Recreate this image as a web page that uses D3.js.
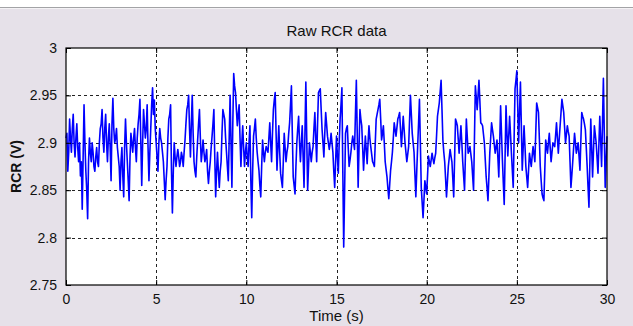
<!DOCTYPE html>
<html>
<head>
<meta charset="utf-8">
<script src="https://cdn.jsdelivr.net/npm/d3@7"></script>
<style>
  html, body { margin: 0; padding: 0; background: #e6e1e9; }
  svg { display: block; font-family: "Liberation Sans", Arial, sans-serif; }
</style>
</head>
<body>
<div id="chart"></div>
<script>
// RCR voltage at whole tenths of a second, one array per 5 s window
const rcr00to05 = [2.905, 2.87, 2.925, 2.89, 2.93, 2.885, 2.92, 2.88, 2.865, 2.83,
  2.94, 2.87, 2.82, 2.905, 2.88, 2.89, 2.87, 2.895, 2.875, 2.915,
  2.935, 2.89, 2.93, 2.88, 2.92, 2.86, 2.947, 2.9, 2.915, 2.885,
  2.85, 2.895, 2.843, 2.925, 2.88, 2.839, 2.91, 2.89, 2.915, 2.88,
  2.92, 2.946, 2.855, 2.935, 2.905, 2.94, 2.86, 2.915, 2.958, 2.945];
const rcr05to10 = [2.9, 2.87, 2.915, 2.9, 2.88, 2.84, 2.875, 2.925, 2.94, 2.826,
  2.9, 2.875, 2.893, 2.875, 2.89, 2.875, 2.903, 2.935, 2.95, 2.885,
  2.95, 2.88, 2.864, 2.903, 2.935, 2.88, 2.903, 2.88, 2.893, 2.857,
  2.88, 2.907, 2.935, 2.843, 2.89, 2.853, 2.88, 2.935, 2.925, 2.89,
  2.86, 2.95, 2.853, 2.973, 2.953, 2.918, 2.94, 2.875, 2.918, 2.875];
const rcr10to15 = [2.9, 2.875, 2.918, 2.821, 2.907, 2.925, 2.89, 2.871, 2.843, 2.903,
  2.88, 2.896, 2.89, 2.921, 2.88, 2.935, 2.953, 2.871, 2.918, 2.868,
  2.853, 2.91, 2.88, 2.896, 2.921, 2.96, 2.864, 2.846, 2.9, 2.928,
  2.88, 2.918, 2.853, 2.964, 2.85, 2.9, 2.88, 2.896, 2.932, 2.88,
  2.953, 2.957, 2.914, 2.885, 2.932, 2.907, 2.893, 2.91, 2.89, 2.853];
const rcr15to20 = [2.907, 2.868, 2.925, 2.958, 2.79, 2.91, 2.918, 2.875, 2.89, 2.907,
  2.893, 2.966, 2.853, 2.935, 2.918, 2.871, 2.907, 2.878, 2.918, 2.896,
  2.88, 2.875, 2.925, 2.935, 2.946, 2.903, 2.918, 2.88, 2.864, 2.841,
  2.871, 2.89, 2.921, 2.907, 2.925, 2.932, 2.896, 2.928, 2.9, 2.88,
  2.896, 2.95, 2.91, 2.89, 2.843, 2.896, 2.946, 2.853, 2.821, 2.86];
const rcr20to25 = [2.846, 2.886, 2.875, 2.889, 2.878, 2.889, 2.928, 2.942, 2.966, 2.903,
  2.88, 2.843, 2.875, 2.893, 2.88, 2.843, 2.925, 2.918, 2.889, 2.918,
  2.88, 2.85, 2.925, 2.889, 2.896, 2.88, 2.85, 2.96, 2.935, 2.966,
  2.921, 2.918, 2.9, 2.864, 2.839, 2.889, 2.921, 2.907, 2.889, 2.903,
  2.864, 2.939, 2.882, 2.835, 2.939, 2.886, 2.928, 2.889, 2.853, 2.957];
const rcr25to30 = [2.976, 2.9, 2.964, 2.871, 2.918, 2.875, 2.853, 2.889, 2.875, 2.896,
  2.88, 2.942, 2.932, 2.875, 2.846, 2.839, 2.903, 2.889, 2.91, 2.88,
  2.9, 2.896, 2.921, 2.889, 2.918, 2.946, 2.932, 2.9, 2.918, 2.907,
  2.853, 2.88, 2.91, 2.889, 2.9, 2.871, 2.932, 2.925, 2.914, 2.875,
  2.832, 2.925, 2.864, 2.918, 2.9, 2.868, 2.928, 2.875, 2.968, 2.853, 2.907];

// readings half way between those (t + 0.05 s), from the dense core of the trace
const mid00to05 = [2.91, 2.89, 2.905, 2.915, 2.9, 2.905, 2.895, 2.9, 2.88, 2.885,
  2.9, 2.85, 2.88, 2.89, 2.9, 2.875, 2.885, 2.88, 2.9, 2.92,
  2.905, 2.915, 2.9, 2.905, 2.895, 2.92, 2.915, 2.905, 2.895, 2.875,
  2.88, 2.865, 2.895, 2.9, 2.86, 2.885, 2.9, 2.905, 2.895, 2.905,
  2.93, 2.9, 2.9, 2.92, 2.915, 2.895, 2.89, 2.94, 2.93, 2.915];
const mid05to10 = [2.885, 2.9, 2.905, 2.89, 2.86, 2.86, 2.905, 2.93, 2.87, 2.87,
  2.885, 2.885, 2.885, 2.88, 2.885, 2.89, 2.92, 2.94, 2.915, 2.92,
  2.91, 2.87, 2.885, 2.92, 2.905, 2.89, 2.89, 2.885, 2.87, 2.87,
  2.895, 2.92, 2.885, 2.87, 2.87, 2.87, 2.91, 2.93, 2.905, 2.875,
  2.905, 2.9, 2.92, 2.96, 2.935, 2.93, 2.905, 2.9, 2.895, 2.89];
const mid10to15 = [2.885, 2.9, 2.86, 2.87, 2.915, 2.905, 2.88, 2.855, 2.875, 2.89,
  2.89, 2.893, 2.905, 2.9, 2.91, 2.945, 2.91, 2.895, 2.89, 2.86,
  2.88, 2.895, 2.89, 2.91, 2.94, 2.91, 2.855, 2.875, 2.915, 2.9,
  2.9, 2.885, 2.91, 2.905, 2.875, 2.89, 2.89, 2.915, 2.905, 2.92,
  2.955, 2.935, 2.9, 2.91, 2.92, 2.9, 2.9, 2.9, 2.87, 2.88];
const mid15to20 = [2.885, 2.9, 2.94, 2.87, 2.85, 2.915, 2.895, 2.882, 2.9, 2.9,
  2.93, 2.91, 2.895, 2.925, 2.895, 2.89, 2.893, 2.9, 2.905, 2.888,
  2.878, 2.9, 2.93, 2.94, 2.925, 2.91, 2.9, 2.872, 2.852, 2.856,
  2.88, 2.905, 2.914, 2.916, 2.928, 2.914, 2.912, 2.914, 2.89, 2.888,
  2.923, 2.93, 2.9, 2.866, 2.87, 2.92, 2.9, 2.837, 2.84, 2.853];
const mid20to25 = [2.866, 2.88, 2.882, 2.883, 2.884, 2.908, 2.935, 2.954, 2.935, 2.89,
  2.862, 2.859, 2.884, 2.886, 2.862, 2.884, 2.922, 2.904, 2.904, 2.9,
  2.865, 2.888, 2.907, 2.892, 2.888, 2.865, 2.905, 2.948, 2.95, 2.944,
  2.92, 2.909, 2.882, 2.852, 2.864, 2.905, 2.914, 2.898, 2.896, 2.884,
  2.9, 2.91, 2.858, 2.887, 2.912, 2.907, 2.909, 2.871, 2.905, 2.966];
const mid25to30 = [2.938, 2.932, 2.918, 2.894, 2.897, 2.864, 2.871, 2.882, 2.886, 2.888,
  2.911, 2.937, 2.904, 2.86, 2.842, 2.871, 2.896, 2.9, 2.895, 2.89,
  2.898, 2.908, 2.905, 2.904, 2.932, 2.939, 2.916, 2.909, 2.912, 2.88,
  2.866, 2.895, 2.9, 2.895, 2.886, 2.902, 2.928, 2.92, 2.895, 2.853,
  2.879, 2.895, 2.891, 2.909, 2.884, 2.898, 2.902, 2.921, 2.91, 2.88];

const sampleStep = 0.1; // seconds between whole readings
const xTicks = [0, 5, 10, 15, 20, 25, 30];
const yTicks = [2.75, 2.8, 2.85, 2.9, 2.95, 3];
const titleText = "Raw RCR data";
const xLabel = "Time (s)";
const yLabel = "RCR (V)";

const mains = [rcr00to05, rcr05to10, rcr10to15, rcr15to20, rcr20to25, rcr25to30];
const mids = [mid00to05, mid05to10, mid10to15, mid15to20, mid20to25, mid25to30];
const data = [];
mains.forEach((m, s) => {
  m.forEach((v, i) => {
    const t = s * 5 + i * sampleStep;
    data.push({ t: t, v: v });
    if (i < mids[s].length) data.push({ t: t + sampleStep / 2, v: mids[s][i] });
  });
});

const width = 633, height = 326;
const margin = { left: 66, right: 26, top: 48, bottom: 41 };
const innerW = width - margin.left - margin.right;
const innerH = height - margin.top - margin.bottom;

const svg = d3.select("#chart").append("svg")
  .attr("width", width)
  .attr("height", height);

// figure background and the window strip at the top
svg.append("rect").attr("width", width).attr("height", height).attr("fill", "#e6e1e9");
svg.append("rect").attr("width", width).attr("height", 7).attr("fill", "#ffffff");
svg.append("line").attr("x1", 0).attr("x2", width).attr("y1", 7.5).attr("y2", 7.5)
  .attr("stroke", "#a3a3a6");
svg.append("line").attr("x1", 0).attr("x2", width).attr("y1", 8.5).attr("y2", 8.5)
  .attr("stroke", "#f4f2f5");

const g = svg.append("g")
  .attr("transform", "translate(" + margin.left + "," + margin.top + ")");

const x = d3.scaleLinear().domain([0, 30]).range([0, innerW]);
const y = d3.scaleLinear().domain([2.75, 3]).range([innerH, 0]);

g.append("rect").attr("width", innerW).attr("height", innerH).attr("fill", "#ffffff");

// dashed grid
g.append("g").selectAll("line")
  .data(xTicks.slice(1, -1))
  .join("line")
  .attr("x1", d => Math.round(x(d)) + 0.5).attr("x2", d => Math.round(x(d)) + 0.5)
  .attr("y1", 0).attr("y2", innerH)
  .attr("stroke", "#222").attr("stroke-dasharray", "3,3");

g.append("g").selectAll("line")
  .data(yTicks.slice(1, -1))
  .join("line")
  .attr("y1", d => Math.round(y(d)) + 0.5).attr("y2", d => Math.round(y(d)) + 0.5)
  .attr("x1", 0).attr("x2", innerW)
  .attr("stroke", "#222").attr("stroke-dasharray", "3,3");

// signal
g.append("path")
  .datum(data)
  .attr("fill", "none")
  .attr("stroke", "#0000ff")
  .attr("stroke-width", 1.6)
  .attr("stroke-linejoin", "round")
  .attr("d", d3.line().x(d => x(d.t)).y(d => y(d.v)));

// axes with inward ticks
const xAxis = g.append("g")
  .attr("transform", "translate(0," + innerH + ")")
  .call(d3.axisBottom(x).tickValues(xTicks).tickSizeInner(-5).tickSizeOuter(0).tickPadding(9));
const xTop = g.append("g")
  .call(d3.axisTop(x).tickValues(xTicks).tickSizeInner(-5).tickSizeOuter(0).tickFormat(""));
const yAxis = g.append("g")
  .call(d3.axisLeft(y).tickValues(yTicks).tickSizeInner(-5).tickSizeOuter(0).tickPadding(9)
    .tickFormat(d3.format("")));
const yRight = g.append("g")
  .attr("transform", "translate(" + innerW + ",0)")
  .call(d3.axisRight(y).tickValues(yTicks).tickSizeInner(-5).tickSizeOuter(0).tickFormat(""));

[xAxis, xTop, yAxis, yRight].forEach(a => {
  a.select(".domain").remove();
  a.selectAll("line").attr("stroke", "#000");
  a.selectAll("text").attr("fill", "#111").style("font-size", "14px");
});

g.append("rect").attr("width", innerW).attr("height", innerH)
  .attr("fill", "none").attr("stroke", "#000").attr("stroke-width", 1.2);

// labels
svg.append("text")
  .attr("x", margin.left + innerW / 2).attr("y", 36)
  .attr("text-anchor", "middle")
  .style("font-size", "15px").attr("fill", "#111")
  .text(titleText);

svg.append("text")
  .attr("x", margin.left + innerW / 2).attr("y", 321)
  .attr("text-anchor", "middle")
  .style("font-size", "15px").attr("fill", "#111")
  .text(xLabel);

svg.append("text")
  .attr("transform", "translate(21," + (margin.top + innerH / 2) + ") rotate(-90)")
  .attr("text-anchor", "middle")
  .style("font-size", "14px").style("font-weight", "bold").attr("fill", "#111")
  .text(yLabel);
</script>
</body>
</html>
